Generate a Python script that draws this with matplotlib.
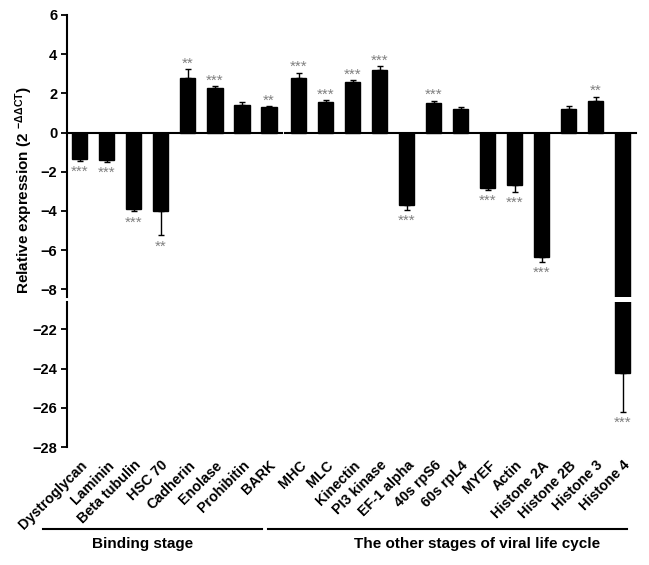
import numpy as np
import matplotlib
matplotlib.use('Agg')
import matplotlib.pyplot as plt
from matplotlib.lines import Line2D

plt.rcParams['font.family'] = ['Liberation Sans', 'DejaVu Sans']
plt.rcParams['mathtext.default'] = 'regular'

genes = ['Dystroglycan', 'Laminin', 'Beta tubulin', 'HSC 70', 'Cadherin', 'Enolase',
         'Prohibitin', 'BARK', 'MHC', 'MLC', 'Kinectin', 'PI3 kinase', 'EF-1 alpha',
         '40s rpS6', '60s rpL4', 'MYEF', 'Actin', 'Histone 2A', 'Histone 2B',
         'Histone 3', 'Histone 4']
values = [-1.34, -1.42, -3.88, -4.02, 2.76, 2.25, 1.41, 1.29, 2.76, 1.54, 2.58, 3.20,
          -3.71, 1.49, 1.22, -2.83, -2.68, -6.34, 1.19, 1.59, -24.2]
errors = [0.10, 0.08, 0.14, 1.22, 0.48, 0.12, 0.17, 0.07, 0.29, 0.12, 0.10, 0.19,
          0.22, 0.14, 0.10, 0.10, 0.34, 0.24, 0.17, 0.24, 2.0]
stars = ['***', '***', '***', '**', '**', '***', '', '**', '***', '***', '***', '***',
         '***', '***', '', '***', '***', '***', '', '**', '***']
n_binding = 8
group_names = ['Binding stage', 'The other stages of viral life cycle']

vals = np.array(values)
errs = np.array(errors)
idx = np.arange(len(genes))
x = idx + np.where(idx >= n_binding, 0.11, 0.0)
lower = np.where(vals < 0, errs, 0)
upper = np.where(vals > 0, errs, 0)

fig = plt.figure(figsize=(6.49, 5.65), dpi=100)
ax_top = fig.add_axes([0.1032, 0.4743, 0.877, 0.4992])
ax_bot = fig.add_axes([0.1032, 0.2088, 0.877, 0.2567])

for ax in (ax_top, ax_bot):
    ax.bar(x, vals, width=0.56, color='black', edgecolor='black', zorder=2)
    ax.errorbar(x, vals, yerr=[lower, upper], fmt='none', ecolor='black',
                elinewidth=1, capsize=2, capthick=1, zorder=1)
    ax.set_xlim(-0.48, 20.6)
    for s in ('top', 'right', 'bottom'):
        ax.spines[s].set_visible(False)
    ax.spines['left'].set_linewidth(1.5)
    ax.tick_params(axis='y', length=4, width=1.3, labelsize=10.5, pad=3)

ax_top.set_ylim(-8.39, 6)
ax_top.set_yticks(np.arange(-8, 7, 2))
ax_top.set_xticks([])
ax_bot.set_ylim(-28, -20.6)
ax_bot.set_yticks([-28, -26, -24, -22])
for ax in (ax_top, ax_bot):
    for lab in ax.get_yticklabels():
        lab.set_fontweight('bold')

ax_bot.set_xticks(x)
ax_bot.set_xticklabels(genes, rotation=45, ha='right', rotation_mode='anchor',
                       fontsize=10.3, fontweight='bold')
ax_bot.tick_params(axis='x', length=0, pad=8)

# zero line, broken between the two groups
ax_top.plot([-0.48, 7.48], [0, 0], color='black', lw=1.5, clip_on=False, zorder=3)
ax_top.plot([7.6, 20.6], [0, 0], color='black', lw=1.5, clip_on=False, zorder=3)

for i, v in enumerate(vals):
    if not stars[i]:
        continue
    ax = ax_bot if v < -20 else ax_top
    if v > 0:
        ax.annotate(stars[i], (x[i], v + errs[i]), xytext=(0, -1), textcoords='offset points',
                    ha='center', va='bottom', color='#808080', fontsize=11)
    else:
        ax.annotate(stars[i], (x[i], v - errs[i]), xytext=(0, -3), textcoords='offset points',
                    ha='center', va='top', color='#808080', fontsize=11)

fig.text(0.037, 0.664, r'Relative expression (2 $^{-ΔΔCT}$)', rotation=90,
         ha='center', va='center', fontsize=11, fontweight='bold')

# group brackets
fig.add_artist(Line2D([0.0663, 0.4037], [0.0637, 0.0637], color='black', lw=1.5))
fig.add_artist(Line2D([0.413, 0.966], [0.0637, 0.0637], color='black', lw=1.5))
fig.text(0.219, 0.037, group_names[0], ha='center', va='center', fontsize=11, fontweight='bold')
fig.text(0.735, 0.037, group_names[1], ha='center', va='center', fontsize=11, fontweight='bold')

fig.savefig('out.png', dpi=100)
